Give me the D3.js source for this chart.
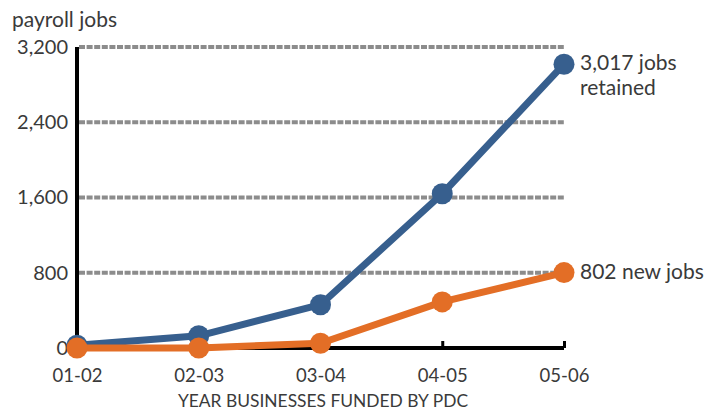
<!DOCTYPE html>
<html>
<head>
<meta charset="utf-8">
<script src="https://cdn.jsdelivr.net/npm/d3@7"></script>
<style>
  html, body { margin: 0; padding: 0; background: #fff; }
  text { font-family: "Lato", "Open Sans", sans-serif; fill: #3a3a3a; }
</style>
</head>
<body>
<svg id="chart" width="710" height="412"></svg>
<script>
// Fiscal years in which businesses were funded
const years = ["01-02", "02-03", "03-04", "04-05", "05-06"];
// Payroll jobs retained and new jobs created
const retained = [30, 130, 460, 1640, 3017];
const newJobs = [0, 0, 50, 490, 802];
const yTicks = [0, 800, 1600, 2400, 3200];

const svg = d3.select("#chart");
const margin = { left: 77, right: 146, top: 47, bottom: 64 };
const W = 710, H = 412;

const x = d3.scalePoint().domain(years).range([margin.left, W - margin.right]);
const y = d3.scaleLinear().domain([0, 3200]).range([H - margin.bottom, margin.top]);

// dashed grid lines
svg.append("g").selectAll("line")
  .data(yTicks.filter(d => d > 0))
  .join("line")
  .attr("x1", margin.left + 2).attr("x2", x("05-06"))
  .attr("y1", d => y(d)).attr("y2", d => y(d))
  .attr("stroke", "#8c8c8c").attr("stroke-width", 4)
  .attr("stroke-dasharray", "6,1.6");

// y axis
const yAxis = svg.append("g")
  .attr("transform", `translate(${margin.left},0)`)
  .call(d3.axisLeft(y).tickValues(yTicks).tickFormat(d3.format(",")).tickSize(0).tickPadding(9));
yAxis.select(".domain").attr("stroke", "#000").attr("stroke-width", 4)
  .attr("d", `M0,${y(3200)}V${y(0)}`);
yAxis.selectAll("text").style("font-size", "20px").attr("fill", "#3a3a3a");

// x axis with inward ticks
const xAxis = svg.append("g")
  .attr("transform", `translate(0,${y(0)})`)
  .call(d3.axisBottom(x).tickSize(-7).tickPadding(21));
xAxis.select(".domain").attr("stroke", "#000").attr("stroke-width", 4)
  .attr("d", `M${margin.left},0H${x("05-06")}`);
xAxis.selectAll(".tick line").attr("stroke", "#000").attr("stroke-width", 3);
xAxis.selectAll("text").style("font-size", "18.5px").attr("fill", "#3a3a3a");

// axis titles
svg.append("text").attr("x", 12).attr("y", 27).style("font-size", "21px").text("payroll jobs");
svg.append("text").attr("x", 323).attr("y", 407).attr("text-anchor", "middle")
  .style("font-size", "17.4px").text("YEAR BUSINESSES FUNDED BY PDC");

// series
const line = d3.line().x((d, i) => x(years[i])).y(d => y(d));
const series = [
  { values: retained, color: "#375f8e" },
  { values: newJobs, color: "#e36e26" }
];
series.forEach(s => {
  svg.append("path").datum(s.values).attr("d", line)
    .attr("fill", "none").attr("stroke", s.color).attr("stroke-width", 7)
    .attr("stroke-linejoin", "round");
  svg.append("g").selectAll("circle").data(s.values).join("circle")
    .attr("cx", (d, i) => x(years[i])).attr("cy", d => y(d)).attr("r", 10.5)
    .attr("fill", s.color);
});

// end labels
const lx = x("05-06") + 16;
const t1 = svg.append("text").attr("x", lx).attr("y", y(3017) + 6).style("font-size", "21px");
t1.append("tspan").text(d3.format(",")(3017) + " jobs");
t1.append("tspan").attr("x", lx).attr("dy", 25).text("retained");
svg.append("text").attr("x", lx).attr("y", y(802) + 6).style("font-size", "21px")
  .text(d3.format(",")(802) + " new jobs");
</script>
</body>
</html>
